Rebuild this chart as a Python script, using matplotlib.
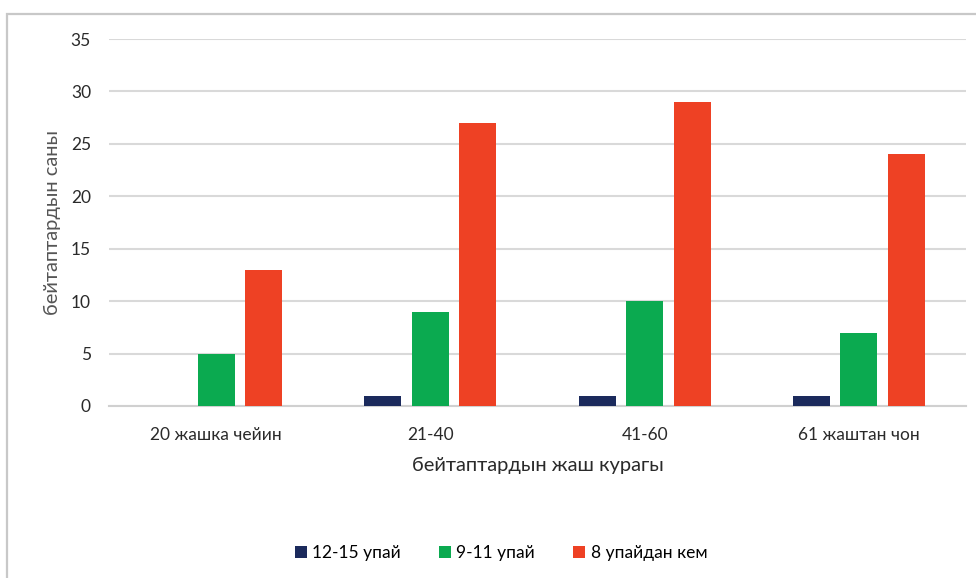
import matplotlib
matplotlib.use("Agg")
import matplotlib.pyplot as plt
from matplotlib.patches import Rectangle
import numpy as np

plt.rcParams['font.family'] = ['Lato', 'DejaVu Sans']

categories = ["20 жашка чейин", "21-40", "41-60", "61 жаштан чон"]
series_names = ["12-15 упай", "9-11 упай", "8 упайдан кем"]
score_12_15 = [0, 1, 1, 1]
score_9_11 = [5, 9, 10, 7]
score_below_8 = [13, 27, 29, 24]
y_ticks = [0, 5, 10, 15, 20, 25, 30, 35]

colors = ["#1B2A5C", "#0BAA50", "#EE4124"]

W, H = 976, 578
fig = plt.figure(figsize=(W / 100, H / 100), dpi=100)

# outer frame of the chart area
fig.patches.append(Rectangle((7 / W, -0.1), 1.2, 1 - 14 / H + 0.1,
                             transform=fig.transFigure, fill=False,
                             edgecolor="#C8C8C8", linewidth=1.6))

ax = fig.add_axes([109 / W, 1 - 406 / H, 857 / W, (406 - 39) / H])

x = np.arange(len(categories))
offset = 0.222
width = 0.173
for i, (vals, name) in enumerate(zip([score_12_15, score_9_11, score_below_8], series_names)):
    ax.bar(x + (i - 1) * offset, vals, width, color=colors[i], label=name, zorder=3)

ax.set_xlim(-0.5, 3.5)
ax.set_ylim(0, 35)
ax.set_yticks(y_ticks)
ax.set_xticks(x)
ax.set_xticklabels(categories)
ax.grid(axis="y", color="#D9D9D9", linewidth=1.5, zorder=0)
for s in ["top", "right", "left"]:
    ax.spines[s].set_visible(False)
ax.spines["bottom"].set_color("#D0D0D0")
ax.spines["bottom"].set_linewidth(1.5)
ax.tick_params(axis="both", length=0, labelsize=12.5, colors="#2A2A2A")
ax.tick_params(axis="y", pad=13)
ax.tick_params(axis="x", pad=15)

ax.set_xlabel("бейтаптардын жаш курагы", fontsize=14.5, color="#2A2A2A", labelpad=10)
ax.set_ylabel("бейтаптардын саны", fontsize=14.5, color="#555555", labelpad=7)

fig.legend(*ax.get_legend_handles_labels(), loc="center",
           bbox_to_anchor=(501 / W, 1 - 553 / H), ncol=3, frameon=False,
           fontsize=12.5, handlelength=0.7, handleheight=0.7, handletextpad=0.3,
           columnspacing=2.2)

fig.savefig("out.png", dpi=100)
